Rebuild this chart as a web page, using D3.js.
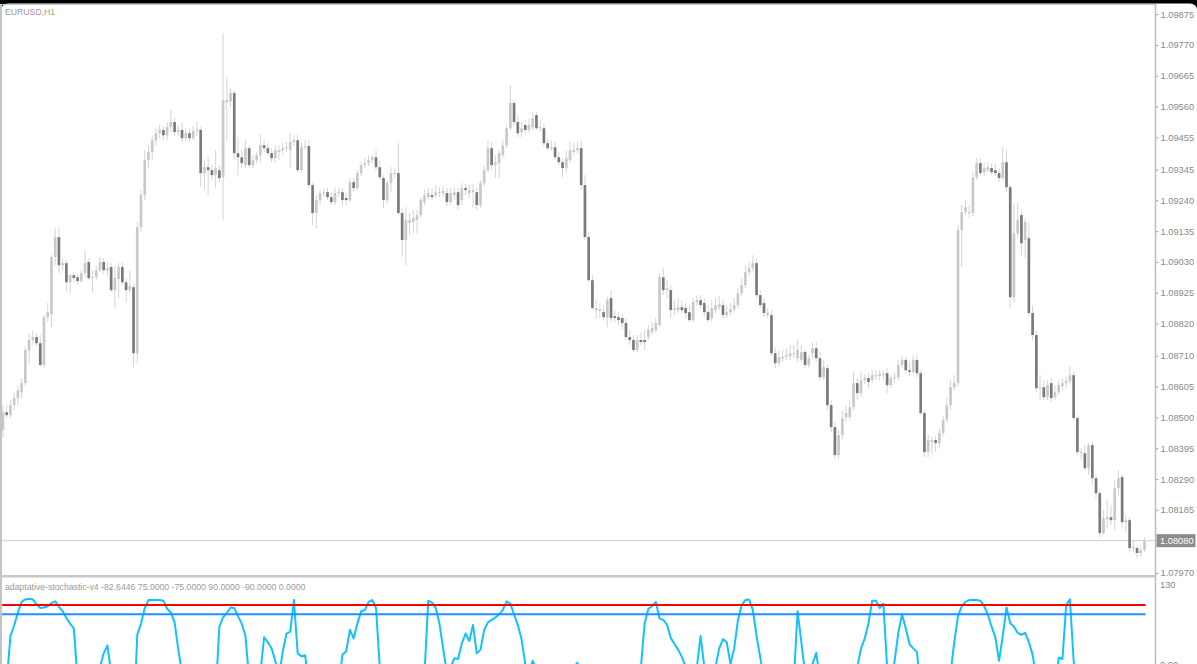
<!DOCTYPE html>
<html>
<head>
<meta charset="utf-8">
<script src="https://cdn.jsdelivr.net/npm/d3@7"></script>
<style>
  html, body { margin: 0; padding: 0; background: #fff; }
  svg { display: block; font-family: "Liberation Sans", Arial, sans-serif; }
</style>
</head>
<body>
<svg id="chart" width="1197" height="664"></svg>
<script>
const symbolLabel = 'EURUSD,H1'
const indicatorLabel = 'adaptative-stochastic-v4 -82.6446 75.0000 -75.0000 90.0000 -90.0000 0.0000'

// EURUSD H1 candles, oldest first
const open = [
  1.08457,1.08518,1.08508,1.08542,1.08566,1.08586,1.08617,1.08730,1.08764,1.08774,
  1.08753,1.08679,1.08842,1.08852,1.09047,1.09115,1.09019,1.09026,1.08961,1.08985,
  1.08978,1.08965,1.08992,1.09030,1.08975,1.08978,1.09002,1.09030,1.09002,1.09013,
  1.08934,1.08972,1.09013,1.08961,1.08934,1.08944,1.08719,1.09149,1.09258,1.09377,
  1.09405,1.09445,1.09469,1.09480,1.09462,1.09490,1.09507,1.09473,1.09480,1.09452,
  1.09469,1.09452,1.09476,1.09480,1.09333,1.09353,1.09343,1.09326,1.09343,1.09319,
  1.09575,1.09578,1.09606,1.09401,1.09387,1.09360,1.09418,1.09360,1.09377,1.09394,
  1.09428,1.09418,1.09401,1.09384,1.09405,1.09411,1.09418,1.09411,1.09439,1.09445,
  1.09343,1.09421,1.09425,1.09292,1.09197,1.09241,1.09265,1.09268,1.09251,1.09234,
  1.09265,1.09268,1.09248,1.09241,1.09302,1.09282,1.09333,1.09360,1.09367,1.09377,
  1.09387,1.09353,1.09316,1.09241,1.09299,1.09330,1.09333,1.09197,1.09105,1.09163,
  1.09166,1.09173,1.09190,1.09234,1.09251,1.09258,1.09258,1.09265,1.09265,1.09265,
  1.09234,1.09258,1.09268,1.09241,1.09282,1.09265,1.09268,1.09268,1.09224,1.09299,
  1.09343,1.09418,1.09360,1.09367,1.09394,1.09428,1.09486,1.09572,1.09507,1.09473,
  1.09497,1.09480,1.09490,1.09531,1.09486,1.09486,1.09435,1.09418,1.09421,1.09387,
  1.09370,1.09350,1.09377,1.09405,1.09411,1.09418,1.09292,1.09115,1.08968,1.08866,
  1.08863,1.08859,1.08842,1.08907,1.08845,1.08842,1.08839,1.08822,1.08774,1.08764,
  1.08730,1.08764,1.08764,1.08774,1.08791,1.08798,1.08815,1.08978,1.08934,1.08934,
  1.08866,1.08866,1.08876,1.08873,1.08859,1.08832,1.08893,1.08900,1.08890,1.08859,
  1.08839,1.08866,1.08876,1.08883,1.08849,1.08859,1.08869,1.08883,1.08924,1.08951,
  1.08995,1.09009,1.09026,1.08917,1.08890,1.08849,1.08849,1.08719,1.08685,1.08702,
  1.08706,1.08709,1.08716,1.08702,1.08696,1.08723,1.08679,1.08719,1.08736,1.08702,
  1.08637,1.08668,1.08542,1.08467,1.08372,1.08440,1.08501,1.08501,1.08535,1.08617,
  1.08583,1.08627,1.08634,1.08627,1.08641,1.08641,1.08644,1.08651,1.08610,1.08634,
  1.08637,1.08679,1.08696,1.08661,1.08655,1.08696,1.08651,1.08515,1.08382,1.08416,
  1.08423,1.08413,1.08447,1.08491,1.08542,1.08603,1.08617,1.09139,1.09200,1.09197,
  1.09197,1.09319,1.09367,1.09336,1.09343,1.09350,1.09343,1.09333,1.09316,1.09370,
  1.09285,1.08910,1.09128,1.09190,1.09105,1.09111,1.08856,1.08781,1.08600,1.08603,
  1.08569,1.08617,1.08569,1.08586,1.08607,1.08617,1.08624,1.08644,1.08498,1.08378,
  1.08378,1.08327,1.08406,1.08293,1.08242,1.08106,1.08153,1.08160,1.08150,1.08259,
  1.08297,1.08143,1.08150,1.08055,1.08055,1.08038,1.08048
]
const high = [
  1.08542,1.08542,1.08559,1.08586,1.08610,1.08634,1.08740,1.08788,1.08798,1.08788,
  1.08781,1.08849,1.08890,1.09053,1.09145,1.09149,1.09043,1.09036,1.08989,1.08995,
  1.08989,1.09002,1.09070,1.09043,1.09002,1.09019,1.09047,1.09043,1.09030,1.09026,
  1.09019,1.09026,1.09030,1.08975,1.09002,1.08958,1.09166,1.09275,1.09411,1.09428,
  1.09463,1.09486,1.09497,1.09493,1.09507,1.09548,1.09520,1.09497,1.09507,1.09486,
  1.09486,1.09493,1.09507,1.09490,1.09377,1.09387,1.09360,1.09411,1.09360,1.09810,
  1.09660,1.09623,1.09616,1.09456,1.09411,1.09445,1.09428,1.09394,1.09405,1.09463,
  1.09445,1.09435,1.09418,1.09428,1.09428,1.09435,1.09439,1.09469,1.09463,1.09463,
  1.09439,1.09445,1.09445,1.09299,1.09258,1.09275,1.09282,1.09282,1.09268,1.09282,
  1.09285,1.09282,1.09265,1.09316,1.09316,1.09343,1.09370,1.09384,1.09394,1.09394,
  1.09411,1.09377,1.09326,1.09309,1.09353,1.09350,1.09435,1.09214,1.09217,1.09197,
  1.09207,1.09207,1.09251,1.09275,1.09282,1.09282,1.09292,1.09285,1.09289,1.09282,
  1.09282,1.09285,1.09282,1.09299,1.09296,1.09292,1.09296,1.09282,1.09309,1.09360,
  1.09445,1.09439,1.09394,1.09411,1.09445,1.09497,1.09633,1.09582,1.09531,1.09507,
  1.09514,1.09520,1.09541,1.09541,1.09514,1.09500,1.09452,1.09445,1.09439,1.09405,
  1.09384,1.09411,1.09439,1.09435,1.09439,1.09445,1.09326,1.09132,1.08985,1.08900,
  1.08890,1.08883,1.08910,1.08934,1.08866,1.08859,1.08852,1.08839,1.08798,1.08781,
  1.08781,1.08788,1.08798,1.08815,1.08825,1.08839,1.08992,1.09009,1.08968,1.08951,
  1.08900,1.08907,1.08900,1.08890,1.08883,1.08907,1.08917,1.08917,1.08907,1.08883,
  1.08900,1.08907,1.08914,1.08900,1.08883,1.08890,1.08907,1.08941,1.08975,1.09019,
  1.09030,1.09053,1.09043,1.08934,1.08907,1.08873,1.08866,1.08736,1.08730,1.08730,
  1.08736,1.08747,1.08747,1.08764,1.08747,1.08730,1.08712,1.08757,1.08757,1.08723,
  1.08696,1.08679,1.08559,1.08484,1.08457,1.08525,1.08542,1.08559,1.08655,1.08634,
  1.08655,1.08648,1.08651,1.08661,1.08661,1.08661,1.08661,1.08668,1.08644,1.08655,
  1.08696,1.08712,1.08706,1.08689,1.08712,1.08712,1.08661,1.08525,1.08440,1.08433,
  1.08436,1.08464,1.08505,1.08566,1.08627,1.08644,1.09156,1.09224,1.09241,1.09224,
  1.09336,1.09384,1.09384,1.09370,1.09370,1.09364,1.09364,1.09350,1.09421,1.09411,
  1.09292,1.09231,1.09231,1.09207,1.09180,1.09166,1.08883,1.08798,1.08644,1.08627,
  1.08627,1.08634,1.08610,1.08627,1.08634,1.08641,1.08675,1.08655,1.08508,1.08395,
  1.08406,1.08413,1.08416,1.08304,1.08252,1.08184,1.08218,1.08201,1.08286,1.08321,
  1.08307,1.08167,1.08160,1.08082,1.08065,1.08065,1.08092
]
const low = [
  1.08430,1.08498,1.08498,1.08525,1.08542,1.08566,1.08607,1.08685,1.08747,1.08743,
  1.08672,1.08672,1.08825,1.08808,1.09019,1.08992,1.09002,1.08927,1.08924,1.08961,
  1.08951,1.08958,1.08978,1.08968,1.08927,1.08968,1.08995,1.08989,1.08982,1.08927,
  1.08873,1.08907,1.08951,1.08893,1.08924,1.08672,1.08685,1.09132,1.09241,1.09350,
  1.09377,1.09428,1.09452,1.09445,1.09445,1.09473,1.09459,1.09459,1.09439,1.09445,
  1.09439,1.09445,1.09459,1.09285,1.09275,1.09258,1.09309,1.09282,1.09302,1.09173,
  1.09445,1.09558,1.09377,1.09326,1.09350,1.09350,1.09350,1.09350,1.09367,1.09370,
  1.09405,1.09391,1.09370,1.09367,1.09377,1.09394,1.09405,1.09350,1.09425,1.09336,
  1.09336,1.09411,1.09282,1.09156,1.09145,1.09224,1.09251,1.09241,1.09224,1.09224,
  1.09251,1.09224,1.09224,1.09234,1.09268,1.09275,1.09323,1.09350,1.09357,1.09367,
  1.09343,1.09309,1.09214,1.09231,1.09268,1.09316,1.09190,1.09047,1.09019,1.09122,
  1.09128,1.09128,1.09180,1.09224,1.09241,1.09241,1.09248,1.09251,1.09251,1.09220,
  1.09224,1.09241,1.09207,1.09224,1.09258,1.09248,1.09214,1.09207,1.09214,1.09289,
  1.09336,1.09343,1.09316,1.09316,1.09384,1.09418,1.09480,1.09493,1.09456,1.09456,
  1.09469,1.09469,1.09480,1.09480,1.09473,1.09425,1.09411,1.09411,1.09377,1.09360,
  1.09319,1.09336,1.09370,1.09394,1.09401,1.09275,1.09105,1.08961,1.08866,1.08835,
  1.08839,1.08832,1.08808,1.08825,1.08825,1.08815,1.08798,1.08764,1.08747,1.08723,
  1.08723,1.08747,1.08730,1.08764,1.08781,1.08788,1.08808,1.08917,1.08907,1.08839,
  1.08849,1.08856,1.08856,1.08839,1.08825,1.08825,1.08880,1.08873,1.08845,1.08825,
  1.08825,1.08856,1.08866,1.08839,1.08839,1.08849,1.08859,1.08873,1.08914,1.08941,
  1.08982,1.08999,1.08907,1.08873,1.08842,1.08839,1.08709,1.08668,1.08675,1.08689,
  1.08696,1.08696,1.08702,1.08689,1.08689,1.08668,1.08668,1.08702,1.08689,1.08627,
  1.08627,1.08525,1.08450,1.08361,1.08361,1.08423,1.08484,1.08491,1.08525,1.08559,
  1.08569,1.08614,1.08600,1.08617,1.08627,1.08627,1.08627,1.08583,1.08600,1.08617,
  1.08627,1.08668,1.08651,1.08641,1.08644,1.08637,1.08508,1.08365,1.08365,1.08372,
  1.08382,1.08395,1.08436,1.08481,1.08525,1.08593,1.08607,1.09013,1.09190,1.09180,
  1.09186,1.09309,1.09323,1.09323,1.09336,1.09326,1.09323,1.09302,1.09309,1.09268,
  1.08873,1.08890,1.09111,1.09053,1.09043,1.08845,1.08764,1.08586,1.08559,1.08559,
  1.08559,1.08552,1.08559,1.08576,1.08593,1.08600,1.08614,1.08491,1.08372,1.08355,
  1.08321,1.08304,1.08269,1.08225,1.08092,1.08099,1.08123,1.08133,1.08116,1.08235,
  1.08126,1.08109,1.08041,1.08041,1.08020,1.08027,1.08041
]
const close = [
  1.08518,1.08508,1.08542,1.08566,1.08593,1.08617,1.08730,1.08764,1.08774,1.08753,
  1.08679,1.08842,1.08859,1.09047,1.09115,1.09019,1.09026,1.08961,1.08985,1.08975,
  1.08965,1.08992,1.09026,1.08975,1.08978,1.09002,1.09030,1.09002,1.09009,1.08934,
  1.08975,1.09013,1.08961,1.08934,1.08948,1.08719,1.09149,1.09258,1.09377,1.09405,
  1.09445,1.09469,1.09480,1.09462,1.09490,1.09507,1.09473,1.09480,1.09452,1.09469,
  1.09452,1.09476,1.09480,1.09333,1.09353,1.09343,1.09326,1.09350,1.09316,1.09582,
  1.09582,1.09606,1.09401,1.09387,1.09367,1.09418,1.09360,1.09377,1.09394,1.09428,
  1.09418,1.09401,1.09384,1.09411,1.09411,1.09418,1.09421,1.09439,1.09445,1.09343,
  1.09421,1.09425,1.09292,1.09197,1.09241,1.09265,1.09268,1.09251,1.09234,1.09265,
  1.09268,1.09241,1.09241,1.09302,1.09282,1.09333,1.09360,1.09367,1.09377,1.09387,
  1.09353,1.09319,1.09241,1.09299,1.09333,1.09333,1.09197,1.09105,1.09173,1.09173,
  1.09180,1.09190,1.09241,1.09258,1.09265,1.09251,1.09268,1.09268,1.09272,1.09234,
  1.09265,1.09268,1.09224,1.09282,1.09275,1.09275,1.09275,1.09224,1.09299,1.09343,
  1.09418,1.09360,1.09370,1.09401,1.09428,1.09486,1.09572,1.09507,1.09469,1.09486,
  1.09480,1.09497,1.09520,1.09486,1.09490,1.09435,1.09418,1.09421,1.09387,1.09370,
  1.09350,1.09384,1.09411,1.09411,1.09418,1.09292,1.09115,1.08968,1.08873,1.08873,
  1.08869,1.08842,1.08900,1.08839,1.08839,1.08832,1.08822,1.08774,1.08764,1.08730,
  1.08764,1.08757,1.08757,1.08798,1.08805,1.08822,1.08978,1.08934,1.08941,1.08866,
  1.08873,1.08876,1.08866,1.08856,1.08832,1.08893,1.08900,1.08883,1.08859,1.08832,
  1.08873,1.08883,1.08886,1.08849,1.08859,1.08869,1.08883,1.08924,1.08951,1.08995,
  1.09009,1.09026,1.08917,1.08883,1.08856,1.08856,1.08719,1.08685,1.08706,1.08706,
  1.08712,1.08719,1.08719,1.08730,1.08723,1.08679,1.08702,1.08736,1.08702,1.08637,
  1.08672,1.08542,1.08467,1.08372,1.08440,1.08498,1.08515,1.08535,1.08617,1.08583,
  1.08627,1.08634,1.08621,1.08644,1.08644,1.08648,1.08648,1.08610,1.08634,1.08637,
  1.08679,1.08696,1.08661,1.08655,1.08696,1.08651,1.08515,1.08382,1.08423,1.08423,
  1.08413,1.08447,1.08491,1.08542,1.08603,1.08617,1.09139,1.09200,1.09217,1.09200,
  1.09319,1.09367,1.09333,1.09350,1.09353,1.09336,1.09333,1.09316,1.09370,1.09285,
  1.08910,1.09128,1.09173,1.09094,1.09166,1.08856,1.08781,1.08600,1.08603,1.08569,
  1.08610,1.08566,1.08586,1.08610,1.08617,1.08624,1.08644,1.08498,1.08382,1.08382,
  1.08327,1.08406,1.08293,1.08242,1.08106,1.08157,1.08160,1.08150,1.08259,1.08293,
  1.08143,1.08150,1.08055,1.08058,1.08038,1.08048,1.08080
]

// adaptive stochastic main buffer, one value per candle
const stoch = [
  -70,-35,40,57,78,95,99,100,99,91,
  85,86,88,93,96,87,80,69,60,52,
  -30,-55,-60,-70,-65,-50,-10,12,25,-20,
  -45,-40,-55,-75,-70,-100,42,60,85,98,
  98,98,98,97,84,78,62,18,-20,-30,
  -35,-30,-30,-80,-70,-65,-70,-55,55,70,
  77,86,85,72,60,40,-30,-40,-30,-20,
  38,30,20,0,-25,15,44,47,98,12,
  7,9,-40,-80,-70,-60,-55,-55,-60,-45,
  -40,10,15,50,36,60,80,82,95,98,
  85,-10,-60,-50,-35,-35,-80,-100,-85,-80,
  -75,-70,-50,-20,97,94,85,60,20,-20,
  -10,4,3,28,44,32,58,12,18,50,
  62,66,70,75,82,96,92,75,58,35,
  -5,-20,0,-15,-30,-50,-60,-55,-65,-70,
  -75,-50,-25,-10,-3,-40,-80,-100,-100,-95,
  -95,-95,-85,-90,-90,-92,-95,-98,-98,-100,
  -80,-10,60,84,88,95,68,66,58,37,
  27,18,6,-10,-30,-25,-10,40,-10,-40,
  -30,-10,20,35,30,-5,20,65,90,98,
  99,82,40,5,-30,-40,-80,-90,-80,-75,
  -70,-60,-30,80,30,-20,-30,-5,13,-30,
  -35,-70,-90,-100,-90,-75,-65,-55,-30,-10,
  20,36,60,97,97,85,92,-10,-40,0,
  45,75,52,27,20,14,-50,-90,-85,-85,
  -80,-70,-60,-50,-20,30,72,88,95,98,
  98,98,97,88,75,55,38,0,40,86,
  61,55,45,42,45,30,10,-30,-50,-60,
  -55,-60,-50,5,3,90,99,0,-60,-55,
  -65,-50,-70,-80,-95,-85,-85,-85,-60,-40,
  -70,-70,-85,-82,-88,-85,-82.6446
]
const stochLevels = [90, 75, -75, -90]
const stochMax = 130

const priceTicks = [1.09875, 1.09770, 1.09665, 1.09560, 1.09455, 1.09345, 1.09240, 1.09135,
  1.09030, 1.08925, 1.08820, 1.08710, 1.08605, 1.08500, 1.08395, 1.08290, 1.08185, 1.07970]
const lastPrice = 1.08080

const W = 1197, H = 664
const plotRight = 1155
const mainTop = 5, mainBottom = 575
const subTop = 578

const svg = d3.select('#chart')
const N = close.length
const candles = d3.range(N).map(i => ({ i: i, o: open[i], h: high[i], l: low[i], c: close[i] }))

// scales
const x = d3.scaleBand().domain(d3.range(N)).range([1.1, 1146.4])
const cx = i => x(i) + x.bandwidth() / 2
const y = d3.scaleLinear().domain([1.07963, 1.09906]).range([mainBottom, mainTop])
const ys = d3.scaleLinear().domain([-stochMax, stochMax]).range([741.4, 580.2])

svg.append('rect').attr('width', W).attr('height', H).attr('fill', '#fff')

const defs = svg.append('defs')
defs.append('clipPath').attr('id', 'clip-main').append('rect')
  .attr('x', 0).attr('y', mainTop).attr('width', plotRight).attr('height', mainBottom - mainTop)
defs.append('clipPath').attr('id', 'clip-sub').append('rect')
  .attr('x', 0).attr('y', subTop).attr('width', plotRight).attr('height', H - subTop)

// current price line sits behind the candles
svg.append('line')
  .attr('x1', 0).attr('x2', plotRight)
  .attr('y1', y(lastPrice)).attr('y2', y(lastPrice))
  .attr('stroke', '#cfcfcf').attr('stroke-width', 1)

function drawCandles() {
  const g = svg.append('g').attr('clip-path', 'url(#clip-main)')
  const bw = x.bandwidth() * 0.72
  g.selectAll('.wick')
    .data(candles)
    .enter().append('line')
    .attr('class', 'wick')
    .attr('x1', d => cx(d.i)).attr('x2', d => cx(d.i))
    .attr('y1', d => y(d.h)).attr('y2', d => y(d.l))
    .attr('stroke', '#d4d4d4')
    .attr('stroke-width', 1)
  g.selectAll('.body')
    .data(candles)
    .enter().append('rect')
    .attr('class', 'body')
    .attr('x', d => cx(d.i) - bw / 2)
    .attr('y', d => y(Math.max(d.o, d.c)))
    .attr('width', bw)
    .attr('height', d => Math.max(1, Math.abs(y(d.o) - y(d.c))))
    .attr('fill', d => d.c >= d.o ? '#c9c9c9' : '#7a7a7a')
}

function drawIndicator() {
  const g = svg.append('g').attr('clip-path', 'url(#clip-sub)')
  const line = d3.line()
    .x((d, i) => cx(i))
    .y(d => ys(d))
  g.append('path')
    .datum(stoch)
    .attr('d', line)
    .attr('fill', 'none')
    .attr('stroke', '#12c2ff')
    .attr('stroke-width', 2)
    .attr('stroke-linejoin', 'round')
  g.selectAll('.level')
    .data(stochLevels)
    .enter().append('line')
    .attr('class', 'level')
    .attr('x1', 0).attr('x2', cx(N - 1) + 1)
    .attr('y1', d => ys(d)).attr('y2', d => ys(d))
    .attr('stroke', d => Math.abs(d) === 90 ? '#ff0000' : '#1e90ff')
    .attr('stroke-width', 2)
}

function drawFrame() {
  // window chrome: black top edge with rounded corners
  svg.append('path')
    .attr('d', 'M0,0 H1197 V9 Q1196,3.5 1189,3.5 H9 Q2,3.5 1.5,9 H0 Z')
    .attr('fill', '#000')
  svg.append('line')
    .attr('x1', 0).attr('x2', plotRight).attr('y1', 4.5).attr('y2', 4.5)
    .attr('stroke', '#c8c8c8').attr('stroke-width', 1)
  svg.append('line')
    .attr('x1', 1).attr('x2', 1).attr('y1', 4).attr('y2', H)
    .attr('stroke', '#c4c4c4').attr('stroke-width', 2)
  svg.append('line')
    .attr('x1', plotRight + 0.5).attr('x2', plotRight + 0.5).attr('y1', 4).attr('y2', H)
    .attr('stroke', '#bdbdbd').attr('stroke-width', 1.5)
  svg.append('rect')
    .attr('x', 0).attr('y', mainBottom).attr('width', plotRight).attr('height', 2.5)
    .attr('fill', '#c8c8c8')
}

function drawAxes() {
  const gAxis = svg.append('g')
    .attr('transform', 'translate(' + (plotRight + 0.5) + ',0)')
    .call(d3.axisRight(y).tickValues(priceTicks).tickFormat(d3.format('.5f')).tickSize(3).tickPadding(2))
  gAxis.select('.domain').remove()
  gAxis.attr('font-family', '"Liberation Sans", Arial, sans-serif').attr('font-size', 9.3)
  gAxis.selectAll('line').attr('stroke', '#a8a8a8')
  gAxis.selectAll('text').attr('fill', '#8a8a8a')

  // last price marker
  const py = y(lastPrice)
  svg.append('rect')
    .attr('x', plotRight + 1.5).attr('y', py - 6.5).attr('width', 39).attr('height', 13)
    .attr('fill', '#8c8c8c')
  svg.append('text')
    .attr('x', plotRight + 5).attr('y', py).attr('dy', '0.34em')
    .attr('font-size', 9.3).attr('fill', '#fff')
    .text(d3.format('.5f')(lastPrice))

  svg.append('text')
    .attr('x', plotRight + 5).attr('y', ys(stochMax) + 5).attr('dy', '0.34em')
    .attr('font-size', 9.3).attr('fill', '#8a8a8a')
    .text(stochMax)
  // bottom scale label of the sub window, clipped by the window edge as in the source
  svg.append('text')
    .attr('x', plotRight + 5).attr('y', ys(0) + 4).attr('dy', '0.34em')
    .attr('font-size', 9.3).attr('fill', '#8a8a8a')
    .text('0.00')
}

function drawLabels() {
  svg.append('text')
    .attr('x', 5).attr('y', 15)
    .attr('font-size', 8.7).attr('fill', '#9a9a9a')
    .text(symbolLabel)
  svg.append('text')
    .attr('x', 5).attr('y', 590)
    .attr('font-size', 8.7).attr('fill', '#9a9a9a')
    .text(indicatorLabel)
}

drawCandles()
drawIndicator()
drawFrame()
drawAxes()
drawLabels()
</script>
</body>
</html>
